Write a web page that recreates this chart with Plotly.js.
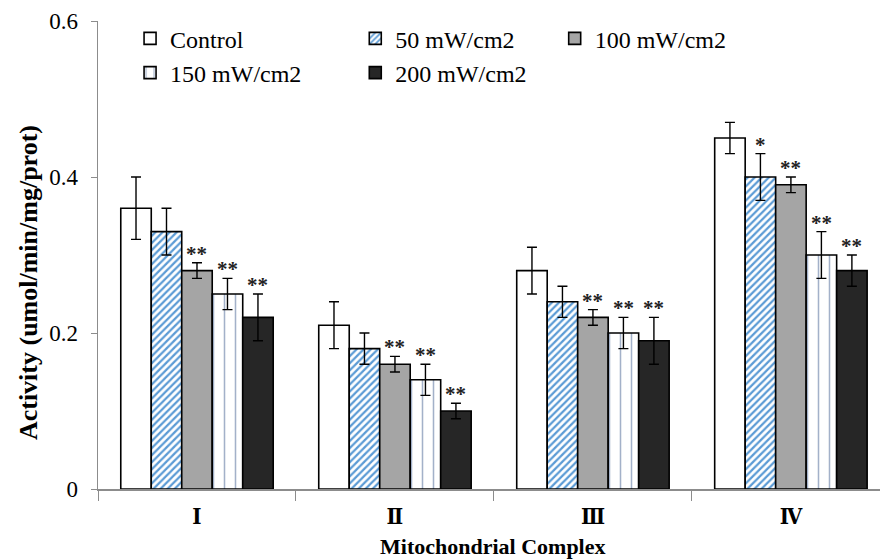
<!DOCTYPE html>
<html><head><meta charset="utf-8">
<script src="https://cdn.plot.ly/plotly-3.0.1.min.js"></script>
<style>body{margin:0;background:#fff}#chart{width:880px;height:560px}</style>
</head><body><div id="chart"></div>
<script>
const categories = ["Ⅰ", "Ⅱ", "Ⅲ", "Ⅳ"];
const seriesNames = ["Control", "50 mW/cm2", "100 mW/cm2", "150 mW/cm2", "200 mW/cm2"];
const control = [0.36, 0.21, 0.28, 0.45];
const mw50 = [0.33, 0.18, 0.24, 0.40];
const mw100 = [0.28, 0.16, 0.22, 0.39];
const mw150 = [0.25, 0.14, 0.20, 0.30];
const mw200 = [0.22, 0.10, 0.19, 0.28];
const errControl = [0.04, 0.03, 0.03, 0.02];
const err50 = [0.03, 0.02, 0.02, 0.03];
const err100 = [0.01, 0.01, 0.01, 0.01];
const err150 = [0.02, 0.02, 0.02, 0.03];
const err200 = [0.03, 0.01, 0.03, 0.02];
const sig50 = ["", "", "", "*"];
const sig100 = ["**", "**", "**", "**"];
const sig150 = ["**", "**", "**", "**"];
const sig200 = ["**", "**", "**", "**"];
const yTitle = "Activity (umol/min/mg/prot)";
const xTitle = "Mitochondrial Complex";

const values = [control, mw50, mw100, mw150, mw200];
const errs = [errControl, err50, err100, err150, err200];
const sigs = [null, sig50, sig100, sig150, sig200];

const SERIF = "Liberation Serif, Times New Roman, serif";

const styles = [
  {color: "#ffffff", pattern: null},
  {color: "#ffffff", pattern: {shape: "/", fgcolor: "#5b9bd5", bgcolor: "#ffffff", size: 5, solidity: 0.45}},
  {color: "#a5a5a5", pattern: null},
  {color: "#ffffff", pattern: {shape: "|", fgcolor: "#a3b1c9", bgcolor: "#ffffff", size: 11, solidity: 0.14}},
  {color: "#262626", pattern: null}
];
const legendIds = ["legend", "legend2", "legend3", "legend", "legend2"];

const bargap = 0.23;
const traces = values.map((v, k) => {
  const m = {color: styles[k].color, line: {color: "#000", width: 1.6}};
  if (styles[k].pattern) m.pattern = styles[k].pattern;
  return {
    type: "bar", name: seriesNames[k], x: categories, y: v,
    marker: m, legend: legendIds[k],
    error_y: {type: "data", array: errs[k], visible: true, color: "#000", thickness: 1.4, width: 5}
  };
});

const barW = (1 - bargap) / values.length;
const annotations = [];
sigs.forEach((s, k) => {
  if (!s) return;
  s.forEach((t, i) => {
    if (!t) return;
    annotations.push({
      x: i + (k - (values.length - 1) / 2) * barW, y: values[k][i] + errs[k][i],
      xref: "x", yref: "y", text: "<b>" + t + "</b>", showarrow: false, yanchor: "bottom", yshift: -5,
      font: {family: SERIF, size: 21, color: "#222"}
    });
  });
});
// axis titles drawn as text annotations to match the reference placement
annotations.push({
  xref: "paper", yref: "paper", x: -0.0895, y: 0.44, xanchor: "center", yanchor: "middle",
  textangle: -90, showarrow: false, text: "<b>" + yTitle + "</b>",
  font: {family: SERIF, size: 26, color: "#000"}
});
annotations.push({
  xref: "paper", yref: "paper", x: 0.505, y: -0.122, xanchor: "center", yanchor: "middle",
  showarrow: false, text: "<b>" + xTitle + "</b>",
  font: {family: SERIF, size: 22, color: "#000"}
});

function legFont() { return {family: SERIF, size: 24, color: "#000"}; }
function leg(x) {
  return {x: x, y: 1.01, xanchor: "left", yanchor: "top", font: legFont(), bgcolor: "rgba(0,0,0,0)", itemwidth: 30, tracegroupgap: 0};
}
const layout = {
  width: 880, height: 560,
  margin: {l: 98, r: 0, t: 21, b: 71},
  paper_bgcolor: "#fff", plot_bgcolor: "#fff",
  barmode: "group", bargap: bargap, bargroupgap: 0,
  font: {family: SERIF, color: "#000"},
  xaxis: {
    range: [-0.5, 3.45], showline: true, linecolor: "#8c8c8c", linewidth: 2,
    ticks: "outside", tickson: "boundaries", ticklen: 10, tickcolor: "#8c8c8c",
    ticklabelstandoff: 7,
    tickfont: {family: "DejaVu Serif Condensed, DejaVu Serif, serif", size: 22, color: "#000", weight: "bold"},
    fixedrange: true
  },
  yaxis: {
    range: [0, 0.6], tickvals: [0, 0.2, 0.4, 0.6], ticktext: ["0", "0.2", "0.4", "0.6"],
    showline: true, linecolor: "#8c8c8c", linewidth: 1.5, ticks: "outside", ticklen: 6, tickcolor: "#8c8c8c",
    ticklabelstandoff: 8,
    showgrid: false, zeroline: false,
    tickfont: {family: SERIF, size: 23, color: "#000"}
  },
  legend: leg(0.041),
  legend2: leg(0.329),
  legend3: leg(0.584),
  annotations: annotations,
  showlegend: true
};
Plotly.newPlot("chart", traces, layout, {displayModeBar: false, staticPlot: true});
</script></body></html>
